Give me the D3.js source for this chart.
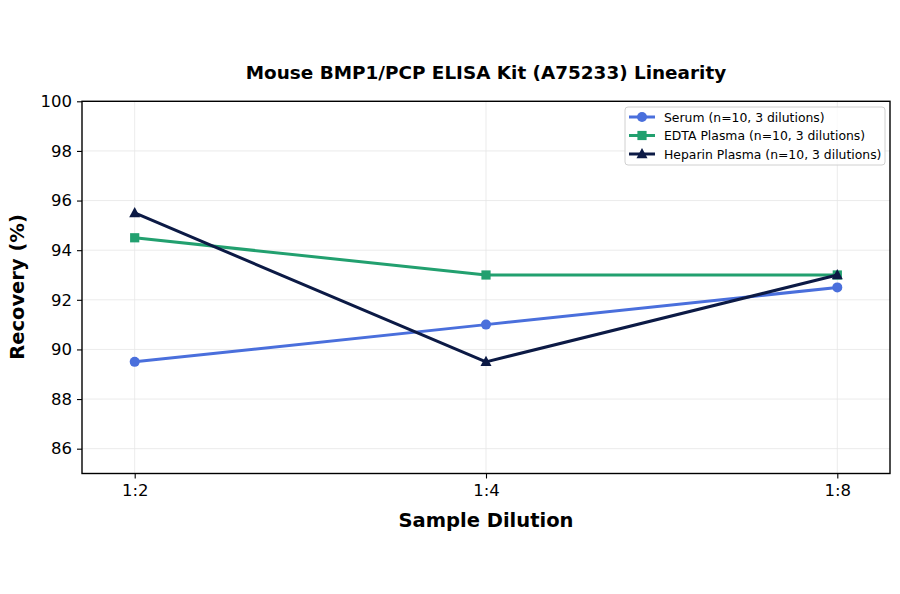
<!DOCTYPE html>
<html><head><meta charset="utf-8">
<script src="https://cdn.jsdelivr.net/npm/d3@7"></script>
<style>body{margin:0;background:#fff;font-family:"DejaVu Sans",sans-serif;}</style>
</head><body><svg id="c" width="900" height="594"></svg>
<script>
const categories = ["1:2", "1:4", "1:8"];
const serum = [89.5, 91.0, 92.5];
const edta = [94.5, 93.0, 93.0];
const heparin = [95.5, 89.5, 93.0];
const yTicks = [86, 88, 90, 92, 94, 96, 98, 100];
const seriesNames = ["Serum (n=10, 3 dilutions)", "EDTA Plasma (n=10, 3 dilutions)", "Heparin Plasma (n=10, 3 dilutions)"];
const seriesColors = ["#4a6fdc", "#22a06f", "#0c1a45"];
const seriesShapes = ["circle", "square", "triangle"];

const svg = d3.select("#c");
const L = 82, R = 890, T = 101.3, B = 473.5;
const x = d3.scaleLinear().domain([-0.15, 2.15]).range([L, R]);
const y = d3.scaleLinear().domain([85, 100]).range([B, T]);

// grid
const g = svg.append("g");
yTicks.forEach(t => g.append("line").attr("x1", L).attr("x2", R).attr("y1", y(t)).attr("y2", y(t)).attr("stroke", "#e6e6e6").attr("stroke-width", 0.8));
categories.forEach((c, i) => g.append("line").attr("x1", x(i)).attr("x2", x(i)).attr("y1", T).attr("y2", B).attr("stroke", "#e6e6e6").attr("stroke-width", 0.8));

// axes
const ya = svg.append("g").attr("transform", `translate(${L},0)`).call(d3.axisLeft(y).tickValues(yTicks).tickSize(5).tickPadding(5));
const xa = svg.append("g").attr("transform", `translate(0,${B})`).call(d3.axisBottom(x).tickValues([0,1,2]).tickFormat(i => categories[i]).tickSize(5).tickPadding(6));
[ya, xa].forEach(a => { a.select(".domain").remove(); a.selectAll("text").attr("font-size", 16.5).attr("font-family", "DejaVu Sans").attr("fill", "#000"); a.selectAll("line").attr("stroke", "#000").attr("stroke-width", 1.1); });

svg.append("rect").attr("x", L).attr("y", T).attr("width", R - L).attr("height", B - T).attr("fill", "none").attr("stroke", "#000").attr("stroke-width", 1.4);

const data = [serum, edta, heparin];
const line = d3.line().x((d, i) => x(i)).y(d => y(d));
function marker(sel, shape, color, cx, cy, s) {
  if (shape === "circle") sel.append("circle").attr("cx", cx).attr("cy", cy).attr("r", s).attr("fill", color);
  else if (shape === "square") sel.append("rect").attr("x", cx - s * 0.92).attr("y", cy - s * 0.92).attr("width", 1.84 * s).attr("height", 1.84 * s).attr("fill", color);
  else sel.append("path").attr("d", `M${cx},${cy - s * 1.2}L${cx + s * 1.1},${cy + s * 0.85}L${cx - s * 1.1},${cy + s * 0.85}Z`).attr("fill", color);
}
data.forEach((vals, k) => {
  svg.append("path").attr("d", line(vals)).attr("fill", "none").attr("stroke", seriesColors[k]).attr("stroke-width", 3).attr("stroke-linejoin", "round");
  vals.forEach((v, i) => marker(svg, seriesShapes[k], seriesColors[k], x(i), y(v), 5));
});

// legend
const lg = svg.append("g");
lg.append("rect").attr("x", 625).attr("y", 107).attr("width", 260).attr("height", 58).attr("rx", 3).attr("fill", "#fff").attr("fill-opacity", 0.8).attr("stroke", "#d0d0d0");
seriesNames.forEach((n, k) => {
  const yy = 117 + k * 18.5;
  lg.append("line").attr("x1", 629).attr("x2", 655).attr("y1", yy).attr("y2", yy).attr("stroke", seriesColors[k]).attr("stroke-width", 3);
  marker(lg, seriesShapes[k], seriesColors[k], 642, yy, 5);
  lg.append("text").attr("x", 664).attr("y", yy + 4.5).attr("font-size", 12.4).attr("font-family", "DejaVu Sans").text(n);
});

svg.append("text").attr("x", 486).attr("y", 79).attr("text-anchor", "middle").attr("font-size", 18.4).attr("font-weight", "bold").text("Mouse BMP1/PCP ELISA Kit (A75233) Linearity");
svg.append("text").attr("x", 486).attr("y", 527).attr("text-anchor", "middle").attr("font-size", 19.5).attr("font-weight", "bold").text("Sample Dilution");
svg.append("text").attr("transform", "translate(24,287) rotate(-90)").attr("text-anchor", "middle").attr("font-size", 19.5).attr("font-weight", "bold").text("Recovery (%)");
</script></body></html>
